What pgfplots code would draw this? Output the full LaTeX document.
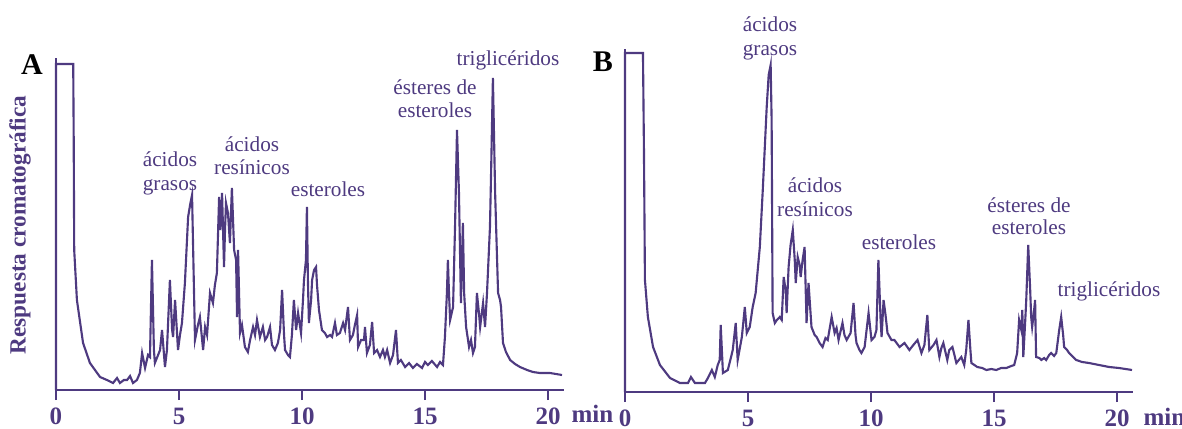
\documentclass[border=0pt]{standalone}
\usepackage{fontspec}
\setmainfont{Liberation Serif}
\usepackage{pgfplots}
\pgfplotsset{compat=1.18}
\definecolor{cromo}{RGB}{78,58,128}
\newcommand{\ann}{\fontsize{8.5}{9}\selectfont}
\newcommand{\bol}{\bfseries\fontsize{9.3}{10}\selectfont}
\newcommand{\tck}{\bfseries\fontsize{10}{11}\selectfont}
\begin{document}
\begin{tikzpicture}
\path[use as bounding box] (0,0) rectangle (472.8pt,171.2pt);
\pgfplotsset{crom/.style={
  scale only axis, width=203.2pt,
  axis lines*=left, axis line style={cromo, line width=1pt},
  xmin=0, xmax=20.65, ymin=0,
  xtick={0,5,10,15,20}, xticklabels={0,5,10,15,20},
  ytick=\empty, tick align=outside, major tick length=4pt,
  tick style={cromo, line width=1pt},
  xticklabel style={font=\tck, text=cromo, anchor=base, yshift=-9.6pt},
  clip=false,
}}
% ---------------- Panel A
\begin{axis}[crom, at={(22.4pt,15.2pt)}, anchor=south west, height=132.8pt, ymax=332]
\addplot[cromo, line width=0.85pt] coordinates {
(0,0) (0,326) (0.70,326) (0.72,250) (0.74,140) (0.85,90) (1.10,47) (1.38,27) (1.79,13) (2.07,10)
(2.32,7) (2.48,12) (2.60,7) (2.76,10) (2.89,10) (3.01,14) (3.13,7) (3.29,10) (3.41,17) (3.50,37)
(3.62,22) (3.74,35) (3.82,33) (3.90,130) (3.98,40) (4.02,27) (4.15,35) (4.23,40) (4.31,60) (4.43,23)
(4.51,40) (4.63,110) (4.72,60) (4.76,53) (4.84,90) (4.96,40) (5.04,55) (5.12,67) (5.24,107) (5.37,173)
(5.45,185) (5.53,195) (5.65,50) (5.77,65) (5.85,73) (5.98,40) (6.06,63) (6.14,55) (6.26,97) (6.38,87)
(6.46,105) (6.54,117) (6.63,193) (6.67,160) (6.71,170) (6.75,197) (6.83,123) (6.87,160) (6.91,187) (6.99,177)
(7.07,147) (7.15,202) (7.24,140) (7.32,130) (7.36,73) (7.40,140) (7.48,57) (7.56,65) (7.68,43) (7.80,38)
(7.89,50) (8.01,63) (8.09,55) (8.17,70) (8.29,53) (8.41,63) (8.50,50) (8.58,53) (8.70,63) (8.78,45)
(8.90,40) (9.02,47) (9.11,60) (9.19,100) (9.27,55) (9.31,40) (9.43,35) (9.51,33) (9.59,55) (9.67,90)
(9.76,60) (9.84,77) (9.96,57) (10.04,90) (10.08,110) (10.16,130) (10.20,183) (10.24,110) (10.28,67) (10.37,90)
(10.41,110) (10.49,120) (10.57,123) (10.61,105) (10.69,80) (10.81,60) (10.93,57) (11.02,53) (11.14,55) (11.22,53)
(11.34,67) (11.42,55) (11.54,57) (11.67,67) (11.75,60) (11.87,83) (11.95,50) (12.07,55) (12.15,65) (12.24,75)
(12.28,43) (12.40,50) (12.52,50) (12.56,63) (12.64,37) (12.76,45) (12.85,68) (12.93,37) (13.05,40) (13.17,33)
(13.29,40) (13.37,33) (13.46,40) (13.58,27) (13.70,35) (13.82,60) (13.90,27) (14.02,30) (14.19,23) (14.35,27)
(14.51,22) (14.67,26) (14.88,22) (15.00,28) (15.12,25) (15.28,29) (15.49,23) (15.61,28) (15.73,25) (15.81,53)
(15.89,97) (15.93,130) (15.97,100) (16.02,70) (16.14,83) (16.22,163) (16.30,260) (16.38,197) (16.46,87) (16.50,130)
(16.54,167) (16.59,97) (16.67,63) (16.79,43) (16.87,50) (16.95,37) (17.03,43) (17.11,97) (17.20,75) (17.24,63)
(17.36,87) (17.44,63) (17.52,97) (17.64,163) (17.68,210) (17.76,312) (17.85,197) (17.93,130) (17.97,97) (18.05,90)
(18.09,83) (18.17,47) (18.29,38) (18.46,30) (18.66,26) (18.86,23) (19.15,20) (19.39,18) (19.67,17) (20.08,17)
(20.57,15)
};
\end{axis}
% ---------------- Panel B
\begin{axis}[crom, at={(250pt,14.4pt)}, anchor=south west, height=137.2pt, ymax=343]
\addplot[cromo, line width=0.85pt] coordinates {
(0,0) (0,339) (0.73,339) (0.77,242) (0.81,112) (0.93,75) (1.14,45) (1.42,27) (1.83,14) (2.23,9)
(2.56,9) (2.68,15) (2.84,9) (3.25,9) (3.37,14) (3.53,22) (3.65,15) (3.77,27) (3.85,32) (3.89,67)
(3.98,19) (4.18,22) (4.38,42) (4.50,69) (4.58,32) (4.75,55) (4.87,85) (4.95,59) (5.07,65) (5.19,85)
(5.31,99) (5.48,145) (5.60,202) (5.76,285) (5.84,317) (5.92,327) (5.96,272) (6.00,79) (6.09,69) (6.17,72)
(6.29,75) (6.37,72) (6.45,115) (6.53,102) (6.57,79) (6.65,125) (6.73,147) (6.82,162) (6.90,132) (6.94,109)
(7.02,135) (7.10,127) (7.14,115) (7.22,132) (7.30,145) (7.38,69) (7.46,109) (7.58,65) (7.71,57) (7.79,55)
(7.91,49) (8.03,45) (8.15,54) (8.24,52) (8.40,75) (8.52,59) (8.60,64) (8.68,52) (8.84,69) (8.92,57)
(9.01,52) (9.17,59) (9.29,89) (9.37,57) (9.41,49) (9.53,42) (9.61,39) (9.74,45) (9.90,79) (10.02,52)
(10.14,55) (10.22,62) (10.30,132) (10.39,72) (10.43,55) (10.51,92) (10.59,77) (10.67,59) (10.83,52) (10.95,52)
(11.16,45) (11.36,49) (11.56,42) (11.72,47) (11.89,52) (12.05,39) (12.17,47) (12.29,77) (12.37,42) (12.54,47)
(12.66,52) (12.78,35) (12.86,44) (12.94,49) (13.10,32) (13.18,42) (13.31,45) (13.47,29) (13.67,35) (13.79,27)
(13.87,42) (13.96,72) (14.04,42) (14.08,29) (14.32,25) (14.52,24) (14.69,22) (14.89,23) (15.09,22) (15.29,24)
(15.50,24) (15.70,26) (15.82,27) (15.94,39) (16.02,72) (16.11,62) (16.15,82) (16.19,35) (16.27,72) (16.31,92)
(16.39,147) (16.47,102) (16.51,75) (16.55,65) (16.63,82) (16.67,92) (16.71,35) (16.84,34) (16.92,32) (17.04,34)
(17.12,32) (17.24,37) (17.32,39) (17.44,36) (17.53,39) (17.65,62) (17.73,75) (17.81,57) (17.85,45) (17.97,42)
(18.05,39) (18.22,35) (18.34,32) (18.58,30) (18.86,29) (19.27,27) (19.68,25) (20.08,24) (20.61,22)
};
\end{axis}
% ---------------- texts (pixel coordinates)
\begin{scope}[x=0.4pt, y=-0.4pt, yshift=171.2pt, every node/.style={inner sep=0pt, text=cromo}]
\node[anchor=base] at (32,75) {\bfseries\fontsize{12}{12}\selectfont\color{black}A};
\node[anchor=base] at (603,72) {\bfseries\fontsize{12}{12}\selectfont\color{black}B};
\node[rotate=90] at (20,225) {\bol Respuesta cromatográfica};
\node[anchor=base west] at (571,423) {\tck min};
\node[anchor=base west] at (1143,426) {\tck min};
% A
\node[anchor=base] at (170,167) {\ann ácidos};
\node[anchor=base] at (170,191) {\ann grasos};
\node[anchor=base] at (252,152) {\ann ácidos};
\node[anchor=base] at (252,175) {\ann resínicos};
\node[anchor=base] at (328,197) {\ann esteroles};
\node[anchor=base] at (435,95) {\ann ésteres de};
\node[anchor=base] at (435,118) {\ann esteroles};
\node[anchor=base] at (508,66) {\ann triglicéridos};
% B
\node[anchor=base] at (770,32) {\ann ácidos};
\node[anchor=base] at (770,56) {\ann grasos};
\node[anchor=base] at (815,193) {\ann ácidos};
\node[anchor=base] at (815,217) {\ann resínicos};
\node[anchor=base] at (899,250) {\ann esteroles};
\node[anchor=base] at (1029,213) {\ann ésteres de};
\node[anchor=base] at (1029,235) {\ann esteroles};
\node[anchor=base] at (1109,297) {\ann triglicéridos};
\end{scope}
\end{tikzpicture}
\end{document}
